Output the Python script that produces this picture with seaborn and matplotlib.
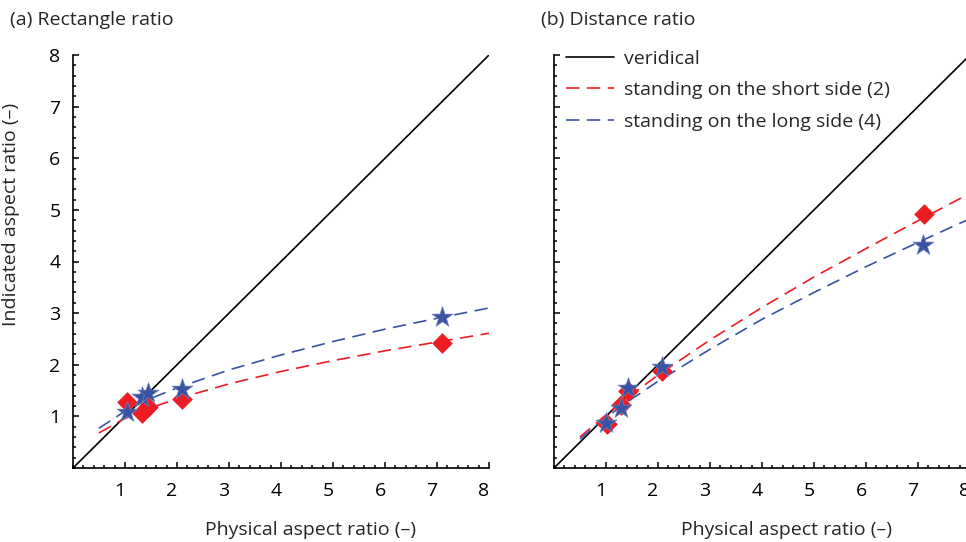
import numpy as np
import matplotlib
matplotlib.use("Agg")
import matplotlib.pyplot as plt
from matplotlib.ticker import MultipleLocator
from matplotlib.transforms import ScaledTranslation
import seaborn as sns

# measured points (physical ratio, indicated ratio)
rect_x_short = [1.03, 1.33, 1.45, 2.10, 7.10]
rect_y_short = [1.28, 1.06, 1.18, 1.33, 2.43]
rect_x_long = [1.03, 1.33, 1.45, 2.10, 7.10]
rect_y_long = [1.09, 1.38, 1.45, 1.53, 2.93]

dist_x_short = [1.02, 1.29, 1.43, 2.07, 7.12]
dist_y_short = [0.85, 1.22, 1.50, 1.87, 4.92]
dist_x_long = [1.00, 1.29, 1.43, 2.07, 7.10]
dist_y_long = [0.87, 1.16, 1.54, 1.96, 4.31]

# fitted curves
fit_x = [0.5, 1, 1.5, 2, 3, 4, 5, 6, 7, 8]
rect_fit_short = [0.68, 0.96, 1.17, 1.34, 1.63, 1.87, 2.08, 2.27, 2.44, 2.61]
rect_fit_long = [0.77, 1.10, 1.35, 1.55, 1.90, 2.19, 2.45, 2.69, 2.90, 3.10]
dist_fit_short = [0.60, 1.03, 1.43, 1.80, 2.48, 3.11, 3.70, 4.25, 4.79, 5.32]
dist_fit_long = [0.56, 0.98, 1.34, 1.68, 2.30, 2.88, 3.40, 3.90, 4.37, 4.83]

veridical = [0, 8]

RED = "#ED1C24"
BLUE = "#3953A4"
FS = 14

sns.set_theme(style="ticks")
plt.rcParams["font.family"] = ["Open Sans", "DejaVu Sans"]

fig = plt.figure(figsize=(9.66, 5.42), dpi=100)
ax_a = fig.add_axes([73 / 966, 74 / 542, 416 / 966, 413 / 542])
ax_b = fig.add_axes([554 / 966, 74 / 542, 416 / 966, 413 / 542])

dash = (0, (8, 4.5))
shift_left = ScaledTranslation(-5 / 100, 0, fig.dpi_scale_trans)


def draw_panel(ax, fit_s, fit_l, xs, ys, xl, yl, label_x):
    sns.lineplot(x=veridical, y=veridical, ax=ax, color="black", lw=1.2,
                 label="veridical", zorder=2)
    sns.lineplot(x=fit_x, y=fit_s, ax=ax, color=RED, lw=1.2, linestyle=dash,
                 label="standing on the short side (2)", zorder=2)
    sns.lineplot(x=fit_x, y=fit_l, ax=ax, color=BLUE, lw=1.2, linestyle=dash,
                 label="standing on the long side (4)", zorder=2)
    sns.scatterplot(x=xs, y=ys, ax=ax, marker="D", s=100, color=RED,
                    edgecolor=RED, linewidth=0.5, zorder=3)
    sns.scatterplot(x=xl, y=yl, ax=ax, marker="*", s=250, color=BLUE,
                    edgecolor="#6F82C0", linewidth=0.5, zorder=3)

    ax.set_xlim(0, 8)
    ax.set_ylim(0, 8)
    ax.set_xticks(range(1, 9))
    ax.set_yticks(range(1, 9))
    ax.xaxis.set_minor_locator(MultipleLocator(0.2))
    ax.yaxis.set_minor_locator(MultipleLocator(0.2))
    ax.tick_params(which="both", direction="in", width=1.1, colors="black",
                   labelsize=FS)
    ax.tick_params(which="major", length=4)
    ax.tick_params(which="minor", length=2.5)
    ax.tick_params(axis="x", pad=10)
    ax.tick_params(axis="y", pad=9)
    for t in ax.xaxis.get_major_ticks():
        t.label1.set_transform(t.label1.get_transform() + shift_left)
    for s in ["top", "right"]:
        ax.spines[s].set_visible(False)
    for s in ["left", "bottom"]:
        ax.spines[s].set_linewidth(1.2)
        ax.spines[s].set_color("black")
    ax.set_xlabel("Physical aspect ratio (\u2013)", fontsize=FS)
    ax.xaxis.set_label_coords(label_x, -0.128)


draw_panel(ax_a, rect_fit_short, rect_fit_long,
           rect_x_short, rect_y_short, rect_x_long, rect_y_long, 0.570)
draw_panel(ax_b, dist_fit_short, dist_fit_long,
           dist_x_short, dist_y_short, dist_x_long, dist_y_long, 0.558)

ax_a.get_legend().remove()
ax_a.set_ylabel("Indicated aspect ratio (\u2013)", fontsize=FS)
ax_a.yaxis.set_label_coords(-0.127, 0.613)
ax_b.tick_params(axis="y", labelleft=False)

ax_b.legend(loc="upper left", bbox_to_anchor=(0.028, 1.013), frameon=False,
            fontsize=FS, handlelength=2.5, handletextpad=0.5,
            labelspacing=0.7, borderaxespad=0, borderpad=0)

fig.text(10 / 966, 1 - 20 / 542, "(a) Rectangle ratio", fontsize=FS,
         ha="left", va="center")
fig.text(541 / 966, 1 - 20 / 542, "(b) Distance ratio", fontsize=FS,
         ha="left", va="center")

fig.savefig("out.png", dpi=100)
